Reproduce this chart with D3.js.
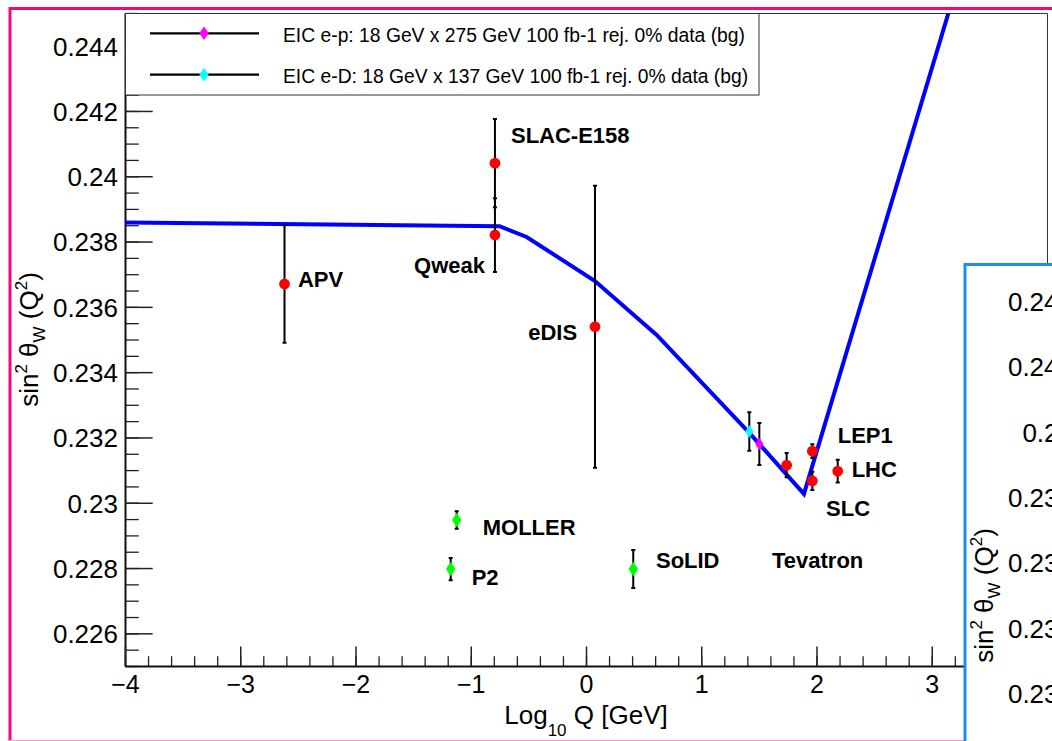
<!DOCTYPE html>
<html><head><meta charset="utf-8">
<script src="https://cdn.jsdelivr.net/npm/d3@7"></script>
<style>
body{margin:0;background:#fff;}
svg{display:block;font-family:"Liberation Sans",Arial,Helvetica,sans-serif;}
</style>
</head><body>
<svg id="c" width="1052" height="741"></svg>
<script>
// ---------------- data ----------------
const xTickValues = [-4, -3, -2, -1, 0, 1, 2, 3];
const xTickLabels = ["\u22124", "\u22123", "\u22122", "\u22121", "0", "1", "2", "3"];
const yTickValues = [0.226, 0.228, 0.230, 0.232, 0.234, 0.236, 0.238, 0.240, 0.242, 0.244];
const yTickLabels = ["0.226", "0.228", "0.23", "0.232", "0.234", "0.236", "0.238", "0.24", "0.242", "0.244"];

// SM running of sin^2 theta_W (blue curve)
const curveLogQ = [-4.0, -0.75, -0.515, 0.078, 0.613, 1.417, 1.891, 3.19];
const curveSin2 = [0.23858, 0.23847, 0.23814, 0.23679, 0.23514, 0.23214, 0.23027, 0.24553];

// existing measurements (red circles)
const measNames = ["APV", "SLAC-E158", "Qweak", "eDIS", "Tevatron", "LEP1", "SLC", "LHC"];
const measLogQ  = [-2.616, -0.79, -0.79, 0.078, 1.741, 1.964, 1.964, 2.184];
const measSin2  = [0.2367, 0.2404, 0.2382, 0.23539, 0.23115, 0.23158, 0.23067, 0.23097];
const measErr   = [0.0018, 0.00135, 0.00113, 0.00432, 0.00037, 0.00021, 0.00028, 0.00035];

// future experiments (green diamonds)
const futNames = ["MOLLER", "P2", "SoLID"];
const futLogQ  = [-1.122, -1.174, 0.41];
const futSin2  = [0.22947, 0.22797, 0.22797];
const futErr   = [0.00027, 0.00034, 0.00058];

// EIC projections
const eicNames  = ["EIC e-p: 18 GeV x 275 GeV 100 fb-1 rej. 0% data (bg)",
                   "EIC e-D: 18 GeV x 137 GeV 100 fb-1 rej. 0% data (bg)"];
const eicColors = ["#ff00ff", "#00ffff"];
const eicLogQ   = [1.504, 1.417];
const eicSin2   = [0.2318, 0.23218];
const eicErr    = [0.00064, 0.00059];

// text labels (data coordinates)
const labelText = ["SLAC-E158", "APV", "Qweak", "eDIS", "LEP1", "LHC", "SLC", "Tevatron", "MOLLER", "P2", "SoLID"];
const labelX    = [-0.651, -2.499, -1.492, -0.501, 2.184, 2.305, 2.083, 1.614, -0.896, -0.992, 0.607];
const labelY    = [0.24101, 0.23662, 0.23704, 0.23498, 0.23182, 0.23080, 0.22959, 0.22799, 0.22901, 0.22748, 0.22799];

// ---------------- drawing ----------------
const svg = d3.select("#c");
const FONT = '"Liberation Sans",Arial,Helvetica,sans-serif';
svg.append("defs").append("clipPath").attr("id", "plotClip")
  .append("rect").attr("x", 125).attr("y", 13).attr("width", 922).attr("height", 653);

function diamondPath(cx, cy, w, h) {
  return `M${cx},${cy - h / 2}L${cx + w / 2},${cy}L${cx},${cy + h / 2}L${cx - w / 2},${cy}Z`;
}

function yTitle(g) {
  const yt = g.append("text").attr("transform", "translate(38,339.5) rotate(-90)")
    .attr("text-anchor", "middle").attr("font-family", FONT).attr("font-size", 26).attr("fill", "#000");
  yt.append("tspan").text("sin");
  yt.append("tspan").attr("font-size", 17).attr("dy", -11).text("2");
  yt.append("tspan").attr("dy", 11).text("\u00a0\u03b8");
  yt.append("tspan").attr("font-size", 17).attr("dy", 7).text("W");
  yt.append("tspan").attr("dy", -7).text("\u00a0(Q");
  yt.append("tspan").attr("font-size", 17).attr("dy", -11).text("2");
  yt.append("tspan").attr("dy", 11).text(")");
}

function drawChart(g) {
  const x = d3.scaleLinear().domain([-4, 4]).range([125, 1047]);
  const y = d3.scaleLinear().domain([0.225, 0.245]).range([666, 13]);

  g.append("rect").attr("x", 0).attr("y", 0).attr("width", 1052).attr("height", 741).attr("fill", "#fff");

  // thin top/right frame
  g.append("path").attr("d", "M125,13.5H1047.5V666").attr("fill", "none")
    .attr("stroke", "#333").attr("stroke-width", 1);

  // minor ticks
  const yMinor = d3.range(0, 41).map(i => 0.225 + i * 0.0005);
  const xMinor = d3.range(0, 41).map(i => -4 + i * 0.2);
  const gyMin = g.append("g").attr("transform", "translate(125,0)")
    .call(d3.axisLeft(y).tickValues(yMinor).tickSizeInner(-13.8).tickSizeOuter(0).tickFormat(""));
  const gxMin = g.append("g").attr("transform", "translate(0,666)")
    .call(d3.axisBottom(x).tickValues(xMinor).tickSizeInner(-9.8).tickSizeOuter(0).tickFormat(""));
  [gyMin, gxMin].forEach(a => {
    a.select(".domain").remove();
    a.selectAll("line").attr("stroke", "#222").attr("stroke-width", 1.3);
  });

  // major ticks + labels
  const gy = g.append("g").attr("transform", "translate(125,0)")
    .call(d3.axisLeft(y).tickValues(yTickValues).tickSizeInner(-27.7).tickSizeOuter(0)
      .tickPadding(7).tickFormat((d, i) => yTickLabels[i]));
  const gx = g.append("g").attr("transform", "translate(0,666)")
    .call(d3.axisBottom(x).tickValues(xTickValues).tickSizeInner(-19.5).tickSizeOuter(0)
      .tickPadding(9).tickFormat((d, i) => xTickLabels[i]));
  [gy, gx].forEach(a => {
    a.attr("font-size", null).attr("font-family", null);
    a.select(".domain").attr("stroke", "#111").attr("stroke-width", 2);
    a.selectAll("line").attr("stroke", "#222").attr("stroke-width", 1.5);
    a.selectAll("text").attr("font-family", FONT).attr("fill", "#000");
  });
  gy.selectAll("text").attr("font-size", 26).attr("dy", "0.36em");
  gx.selectAll("text").attr("font-size", 25).attr("dy", "0.71em");

  // axis titles
  const xt = g.append("text").attr("x", 586).attr("y", 724).attr("text-anchor", "middle")
    .attr("font-family", FONT).attr("font-size", 26).attr("fill", "#000");
  xt.append("tspan").text("Log");
  xt.append("tspan").attr("font-size", 17).attr("dy", 12).text("10");
  xt.append("tspan").attr("dy", -12).text("\u00a0Q [GeV]");
  yTitle(g);

  // blue curve
  const curve = curveLogQ.map((v, i) => [v, curveSin2[i]]);
  g.append("path").datum(curve).attr("clip-path", "url(#plotClip)")
    .attr("d", d3.line().x(d => x(d[0])).y(d => y(d[1])))
    .attr("fill", "none").attr("stroke", "#0000ff").attr("stroke-width", 4)
    .attr("stroke-linejoin", "miter");

  // error bars
  const allX = measLogQ.concat(futLogQ, eicLogQ);
  const allY = measSin2.concat(futSin2, eicSin2);
  const allE = measErr.concat(futErr, eicErr);
  const eb = g.append("g").attr("stroke", "#000").attr("stroke-width", 2).attr("fill", "none");
  allX.forEach((xv, i) => {
    const px = x(xv), y1 = y(allY[i] + allE[i]), y2 = y(allY[i] - allE[i]);
    eb.append("path").attr("d", `M${px},${y1}V${y2}M${px - 2},${y1}H${px + 2}M${px - 2},${y2}H${px + 2}`);
  });

  // markers
  g.append("g").selectAll("circle").data(measLogQ).join("circle")
    .attr("cx", d => x(d)).attr("cy", (d, i) => y(measSin2[i])).attr("r", 5.4).attr("fill", "#ff0000");
  g.append("g").selectAll("path").data(futLogQ).join("path")
    .attr("d", (d, i) => diamondPath(x(d), y(futSin2[i]), 9.5, 14.5)).attr("fill", "#00ff00");
  g.append("g").selectAll("path").data(eicLogQ).join("path")
    .attr("d", (d, i) => diamondPath(x(d), y(eicSin2[i]), 8.5, 12.5)).attr("fill", (d, i) => eicColors[i]);

  // labels
  g.append("g").selectAll("text").data(labelText).join("text")
    .attr("x", (d, i) => x(labelX[i])).attr("y", (d, i) => y(labelY[i]))
    .attr("font-family", FONT).attr("font-size", 22).attr("font-weight", "bold").attr("fill", "#000")
    .text(d => d);

  // legend
  const lg = g.append("g");
  lg.append("rect").attr("x", 125.5).attr("y", 13.5).attr("width", 633.5).attr("height", 81.5)
    .attr("fill", "#fff").attr("stroke", "#333").attr("stroke-width", 1);
  const rowY = [33.3, 74.7];
  eicNames.forEach((name, i) => {
    lg.append("line").attr("x1", 150).attr("x2", 259).attr("y1", rowY[i]).attr("y2", rowY[i])
      .attr("stroke", "#000").attr("stroke-width", 2.2);
    lg.append("path").attr("d", diamondPath(204, rowY[i], 9.5, 13.5)).attr("fill", eicColors[i]);
    lg.append("text").attr("x", 283).attr("y", rowY[i] + 8.5).attr("font-family", FONT)
      .attr("font-size", 19.3).attr("fill", "#000").text(name);
  });

  // outer pad frame
  g.append("path").attr("d", "M10,741V8.5H1052").attr("fill", "none")
    .attr("stroke", "#f0087c").attr("stroke-width", 3);
  g.append("line").attr("x1", 8.5).attr("x2", 1052).attr("y1", 740.5).attr("y2", 740.5)
    .attr("stroke", "#ff9ccf").attr("stroke-width", 1);
}

// second pad (same plot, partly visible in the lower-right corner)
function drawInset(g) {
  const y = d3.scaleLinear().domain([0.225, 0.245]).range([666, 13]);
  g.append("rect").attr("x", 10).attr("y", 8.5).attr("width", 200).attr("height", 600).attr("fill", "#fff");
  // only the tick labels that fall inside the window
  const vis = yTickValues.map((v, i) => i).filter(i => y(yTickValues[i]) + 256 < 735);
  g.append("g").selectAll("text").data(vis).join("text")
    .attr("x", 118).attr("y", i => y(yTickValues[i])).attr("dy", "0.36em")
    .attr("text-anchor", "end").attr("font-family", FONT).attr("font-size", 26).attr("fill", "#000")
    .text(i => yTickLabels[i]);
  yTitle(g);
  g.append("path").attr("d", "M10,600V8.5H200").attr("fill", "none")
    .attr("stroke", "#1c8cf0").attr("stroke-width", 3);
}

drawChart(svg.append("g"));
drawInset(svg.append("g").attr("transform", "translate(955,256)"));
</script>
</body></html>
